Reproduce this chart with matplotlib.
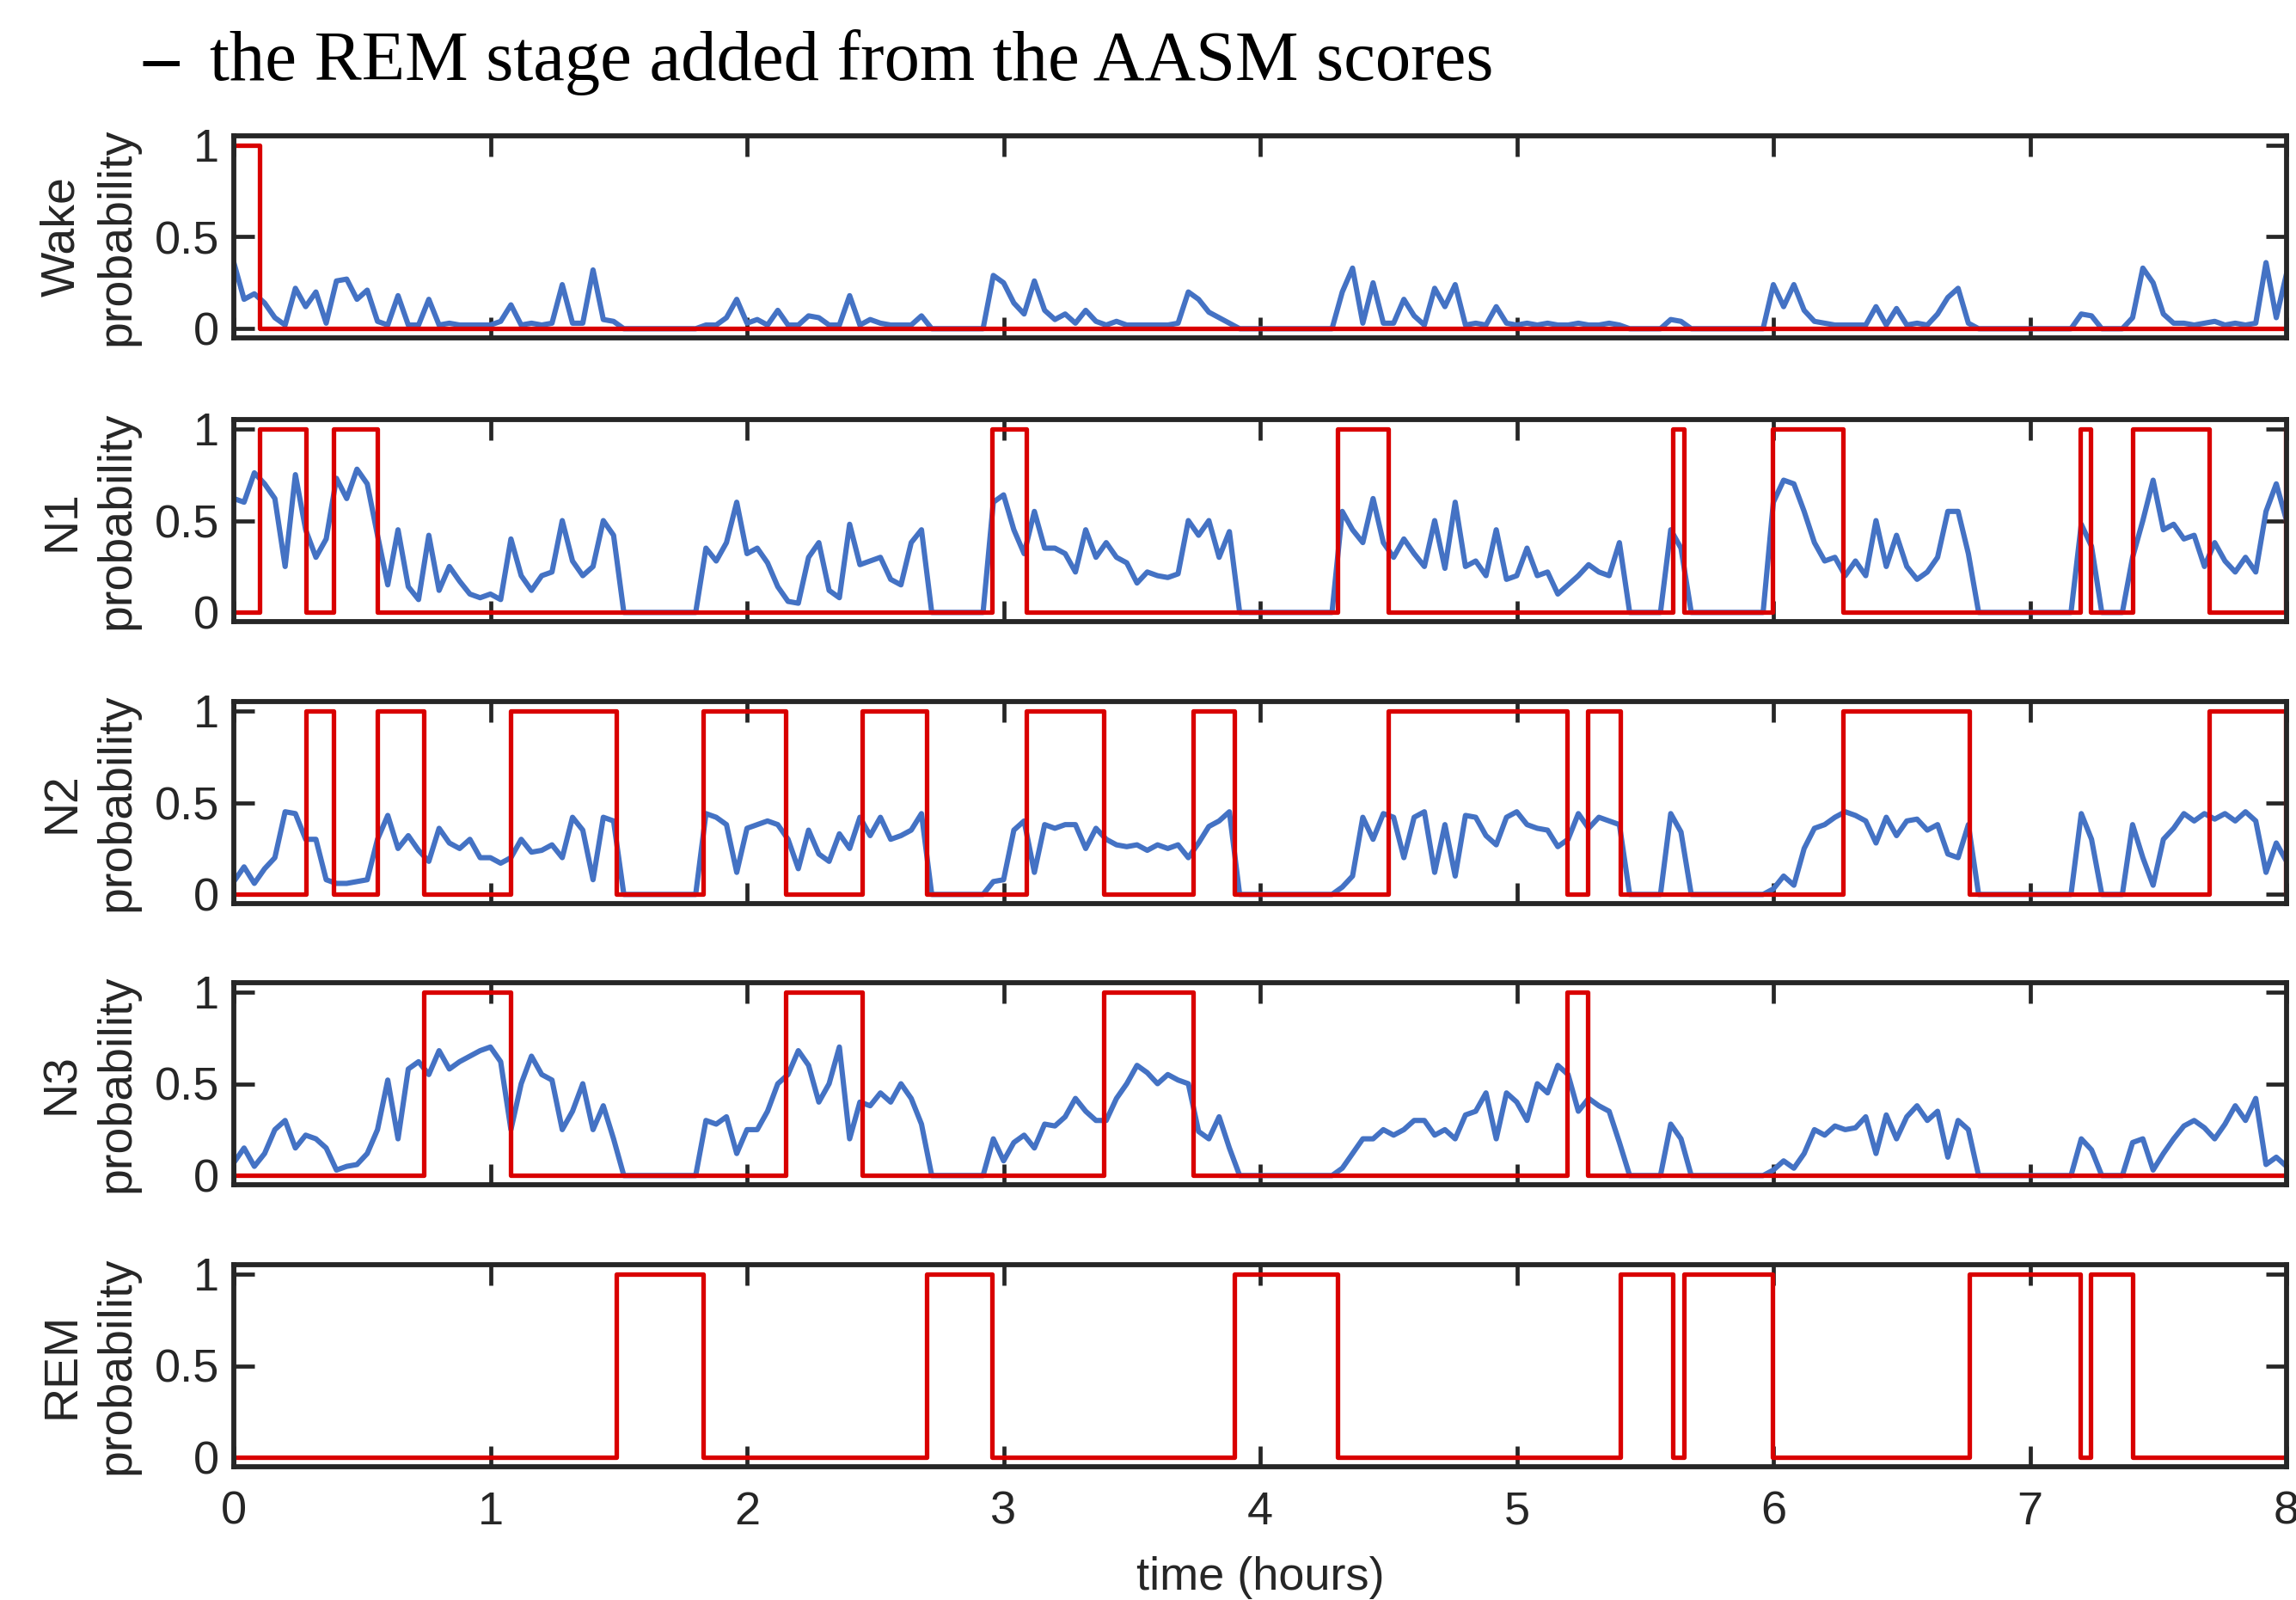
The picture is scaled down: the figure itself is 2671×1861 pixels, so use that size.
import numpy as np
import matplotlib
matplotlib.use("Agg")
import matplotlib.pyplot as plt

plt.rcParams['font.family'] = ['Liberation Sans', 'DejaVu Sans']

# hypnogram from the AASM scores: start time (hours) of each scored run and its stage
hyp_start = [0.0, 0.10, 0.28, 0.39, 0.56, 0.74, 1.08, 1.49, 1.83, 2.15, 2.45, 2.70,
             2.955, 3.09, 3.39, 3.74, 3.90, 4.30, 4.50, 5.195, 5.275, 5.405, 5.607,
             5.653, 5.995, 6.27, 6.765, 7.195, 7.235, 7.40, 7.70, 7.995]
hyp_stage = ['W', 'N1', 'N2', 'N1', 'N2', 'N3', 'N2', 'REM', 'N2', 'N3', 'N2', 'REM',
             'N1', 'N2', 'N3', 'N2', 'REM', 'N1', 'N2', 'N3', 'N2', 'REM', 'N1',
             'REM', 'N1', 'N2', 'REM', 'N1', 'REM', 'N1', 'N2', 'N1']
t_end = 8.0

# model probabilities, one value every 0.04 h (0 during REM epochs)
dt = 0.04
wake_prob = [
    0.36, 0.16, 0.19, 0.14, 0.06, 0.02, 0.22, 0.12, 0.20, 0.03,
    0.26, 0.27, 0.16, 0.21, 0.04, 0.02, 0.18, 0.02, 0.02, 0.16,
    0.02, 0.03, 0.02, 0.02, 0.02, 0.02, 0.04, 0.13, 0.02, 0.03,
    0.02, 0.03, 0.24, 0.03, 0.03, 0.32, 0.05, 0.04,
    0, 0, 0, 0, 0, 0, 0, 0,
    0.02, 0.02, 0.06, 0.16, 0.03, 0.05, 0.02, 0.10,
    0.02, 0.02, 0.07, 0.06, 0.02, 0.02, 0.18, 0.02, 0.05, 0.03, 0.02, 0.02, 0.02, 0.07,
    0, 0, 0, 0, 0, 0,
    0.29, 0.25, 0.14, 0.08, 0.26, 0.10, 0.05, 0.08, 0.03, 0.10, 0.04, 0.02,
    0.04, 0.02, 0.02, 0.02, 0.02, 0.02, 0.03, 0.20, 0.16, 0.09, 0.06, 0.03,
    0, 0, 0, 0, 0, 0, 0, 0, 0, 0,
    0.20, 0.33, 0.03, 0.25, 0.03, 0.03, 0.16, 0.07, 0.02, 0.22, 0.12, 0.24, 0.02, 0.03,
    0.02, 0.12, 0.03, 0.02, 0.03, 0.02, 0.03, 0.02, 0.02, 0.03, 0.02, 0.02, 0.03, 0.02,
    0, 0, 0, 0,
    0.05, 0.04,
    0, 0, 0, 0, 0, 0, 0, 0,
    0.24, 0.12, 0.24, 0.10, 0.04, 0.03, 0.02, 0.02, 0.02, 0.02,
    0.12, 0.02, 0.11, 0.02, 0.03, 0.02, 0.08, 0.17, 0.22, 0.03,
    0, 0, 0, 0, 0, 0, 0, 0, 0, 0,
    0.08, 0.07,
    0, 0, 0,
    0.06, 0.33, 0.25, 0.08, 0.03, 0.03, 0.02, 0.03, 0.04, 0.02, 0.03, 0.02, 0.03, 0.36, 0.06, 0.30]

n1_prob = [
    0.62, 0.60, 0.76, 0.70, 0.62, 0.25, 0.75, 0.45, 0.30, 0.40,
    0.73, 0.62, 0.78, 0.70, 0.42, 0.15, 0.45, 0.14, 0.07, 0.42,
    0.12, 0.25, 0.17, 0.10, 0.08, 0.10, 0.07, 0.40, 0.20, 0.12,
    0.20, 0.22, 0.50, 0.28, 0.20, 0.25, 0.50, 0.42,
    0, 0, 0, 0, 0, 0, 0, 0,
    0.35, 0.28, 0.38, 0.60, 0.32, 0.35, 0.27, 0.14, 0.06, 0.05, 0.30,
    0.38, 0.12, 0.08, 0.48, 0.26, 0.28, 0.30, 0.18, 0.15, 0.38, 0.45,
    0, 0, 0, 0, 0, 0,
    0.60, 0.64, 0.45, 0.32, 0.55, 0.35, 0.35, 0.32, 0.22, 0.45, 0.30, 0.38,
    0.30, 0.27, 0.16, 0.22, 0.20, 0.19, 0.21, 0.50, 0.42, 0.50, 0.30, 0.44,
    0, 0, 0, 0, 0, 0, 0, 0, 0, 0,
    0.55, 0.45, 0.38, 0.62, 0.38, 0.30, 0.40, 0.32, 0.25, 0.50, 0.24, 0.60, 0.25, 0.28,
    0.20, 0.45, 0.18, 0.20, 0.35, 0.20, 0.22, 0.10, 0.15, 0.20, 0.26, 0.22, 0.20, 0.38,
    0, 0, 0, 0,
    0.45, 0.35,
    0, 0, 0, 0, 0, 0, 0, 0,
    0.60, 0.72, 0.70, 0.55, 0.38, 0.28, 0.30, 0.20, 0.28, 0.20,
    0.50, 0.25, 0.42, 0.25, 0.18, 0.22, 0.30, 0.55, 0.55, 0.32,
    0, 0, 0, 0, 0, 0, 0, 0, 0, 0,
    0.48, 0.36,
    0, 0, 0,
    0.30, 0.50, 0.72, 0.45, 0.48, 0.40, 0.42, 0.25, 0.38, 0.28, 0.22, 0.30, 0.22, 0.55, 0.70, 0.50]

n2_prob = [
    0.07, 0.15, 0.06, 0.14, 0.20, 0.45, 0.44, 0.30, 0.30, 0.08,
    0.06, 0.06, 0.07, 0.08, 0.30, 0.43, 0.25, 0.32, 0.24, 0.18,
    0.36, 0.28, 0.25, 0.30, 0.20, 0.20, 0.17, 0.20, 0.30, 0.23,
    0.24, 0.27, 0.20, 0.42, 0.35, 0.08, 0.42, 0.40,
    0, 0, 0, 0, 0, 0, 0, 0,
    0.44, 0.42, 0.38, 0.12, 0.36, 0.38, 0.40, 0.38, 0.30, 0.14, 0.35,
    0.22, 0.18, 0.33, 0.25, 0.42, 0.32, 0.42, 0.30, 0.32, 0.35, 0.44,
    0, 0, 0, 0, 0, 0,
    0.07, 0.08, 0.35, 0.40, 0.12, 0.38, 0.36, 0.38, 0.38, 0.25, 0.36, 0.30,
    0.27, 0.26, 0.27, 0.24, 0.27, 0.25, 0.27, 0.20, 0.28, 0.37, 0.40, 0.45,
    0, 0, 0, 0, 0, 0, 0, 0, 0, 0,
    0.04, 0.10, 0.42, 0.30, 0.44, 0.42, 0.20, 0.42, 0.45, 0.12, 0.38, 0.10, 0.43, 0.42,
    0.32, 0.27, 0.42, 0.45, 0.38, 0.36, 0.35, 0.26, 0.30, 0.44, 0.36, 0.42, 0.40, 0.38,
    0, 0, 0, 0,
    0.44, 0.34,
    0, 0, 0, 0, 0, 0, 0, 0,
    0.03, 0.10, 0.05, 0.25, 0.36, 0.38, 0.42, 0.45, 0.43, 0.40,
    0.28, 0.42, 0.32, 0.40, 0.41, 0.35, 0.38, 0.22, 0.20, 0.38,
    0, 0, 0, 0, 0, 0, 0, 0, 0, 0,
    0.44, 0.30,
    0, 0, 0,
    0.38, 0.20, 0.05, 0.30, 0.36, 0.44, 0.40, 0.44, 0.41, 0.44, 0.40, 0.45, 0.40, 0.12, 0.28, 0.18]

n3_prob = [
    0.07, 0.15, 0.05, 0.12, 0.25, 0.30, 0.15, 0.22, 0.20, 0.15,
    0.03, 0.05, 0.06, 0.12, 0.25, 0.52, 0.20, 0.58, 0.62, 0.55,
    0.68, 0.58, 0.62, 0.65, 0.68, 0.70, 0.62, 0.25, 0.50, 0.65,
    0.55, 0.52, 0.25, 0.35, 0.50, 0.25, 0.38, 0.20,
    0, 0, 0, 0, 0, 0, 0, 0,
    0.30, 0.28, 0.32, 0.12, 0.25, 0.25, 0.35, 0.50, 0.55, 0.68, 0.60,
    0.40, 0.50, 0.70, 0.20, 0.40, 0.38, 0.45, 0.40, 0.50, 0.42, 0.28,
    0, 0, 0, 0, 0, 0,
    0.20, 0.08, 0.18, 0.22, 0.15, 0.28, 0.27, 0.32, 0.42, 0.35, 0.30, 0.30,
    0.42, 0.50, 0.60, 0.56, 0.50, 0.55, 0.52, 0.50, 0.24, 0.20, 0.32, 0.15,
    0, 0, 0, 0, 0, 0, 0, 0, 0, 0,
    0.04, 0.12, 0.20, 0.20, 0.25, 0.22, 0.25, 0.30, 0.30, 0.22, 0.25, 0.20, 0.33, 0.35,
    0.45, 0.20, 0.45, 0.40, 0.30, 0.50, 0.45, 0.60, 0.55, 0.35, 0.42, 0.38, 0.35, 0.18,
    0, 0, 0, 0,
    0.28, 0.20,
    0, 0, 0, 0, 0, 0, 0, 0,
    0.03, 0.08, 0.04, 0.12, 0.25, 0.22, 0.27, 0.25, 0.26, 0.32,
    0.12, 0.33, 0.20, 0.32, 0.38, 0.30, 0.35, 0.10, 0.30, 0.25,
    0, 0, 0, 0, 0, 0, 0, 0, 0, 0,
    0.20, 0.14,
    0, 0, 0,
    0.18, 0.20, 0.03, 0.12, 0.20, 0.27, 0.30, 0.26, 0.20, 0.28, 0.38, 0.30, 0.42, 0.06, 0.10, 0.05]

panels = [('Wake', 'W', wake_prob), ('N1', 'N1', n1_prob), ('N2', 'N2', n2_prob),
          ('N3', 'N3', n3_prob), ('REM', 'REM', None)]

blue = '#4472C4'
red = '#D90000'
dark = '#262626'

W, H = 2671, 1861
fig = plt.figure(figsize=(W / 100, H / 100), dpi=100)

# title line from the surrounding document
fig.text(166 / W, 1 - 93 / H, '\u2013', family='Liberation Serif', fontsize=59.5,
         va='baseline', ha='left', fontweight='bold')
fig.text(244 / W, 1 - 93 / H, 'the REM stage added from the AASM scores',
         family='Liberation Serif', fontsize=59.5, va='baseline', ha='left')

left_px, right_px = 272, 2660
tops = [158, 488, 816, 1143, 1471]
height_px = 235

step_x = hyp_start + [t_end]

for i, (label, code, prob) in enumerate(panels):
    top = tops[i]
    ax = fig.add_axes([left_px / W, 1 - (top + height_px) / H,
                       (right_px - left_px) / W, height_px / H])
    if prob is not None:
        p = np.array(prob, dtype=float)
        t = np.arange(len(p)) * dt
        ax.plot(t, p, color=blue, lw=4.4, solid_joinstyle='round')
    ind = [1.0 if s == code else 0.0 for s in hyp_stage]
    ax.plot(step_x, ind + [ind[-1]], drawstyle='steps-post', color=red, lw=3.8)

    ax.set_xlim(0, 8)
    ax.set_ylim(-0.05, 1.05)
    ax.set_xticks(range(9))
    ax.set_yticks([0, 0.5, 1])
    ax.set_yticklabels(['0', '0.5', '1'])
    ax.tick_params(axis='both', direction='in', length=17, width=3.4, color=dark,
                   top=True, right=True, labelsize=39, labelcolor=dark)
    ax.tick_params(axis='x', pad=20)
    ax.tick_params(axis='y', pad=12)
    for sp in ax.spines.values():
        sp.set_linewidth(4.2)
        sp.set_color(dark)
    if i < len(panels) - 1:
        ax.set_xticklabels([])
    else:
        ax.set_xlabel('time (hours)', fontsize=39, color=dark, labelpad=19)
    ax.set_ylabel(label + '\nprobability', fontsize=40, color=dark, linespacing=1.3)
    ax.yaxis.set_label_coords(-0.046, 0.5)

fig.savefig('out.png', dpi=100)
